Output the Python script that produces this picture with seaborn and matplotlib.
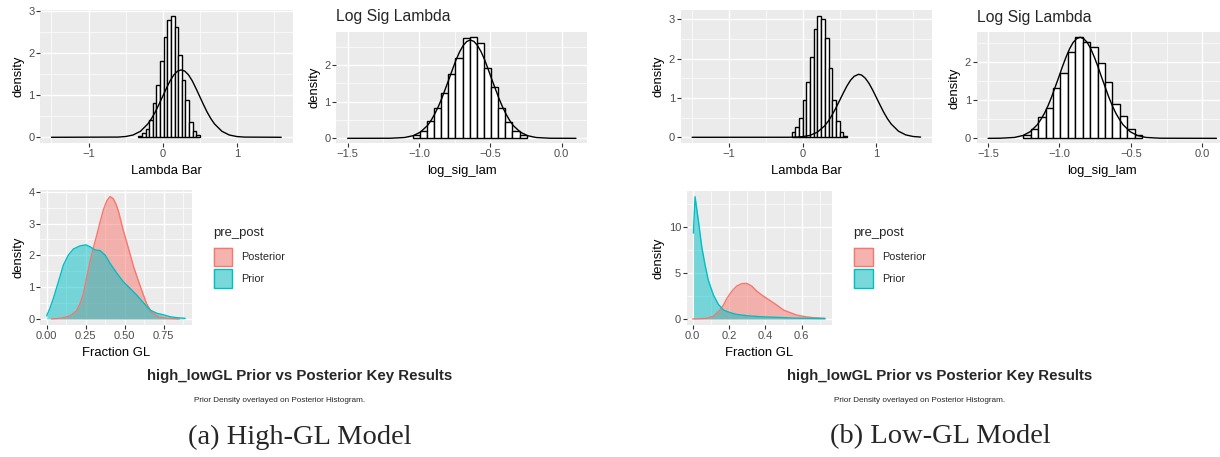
import matplotlib
matplotlib.use("Agg")
import matplotlib.pyplot as plt
from matplotlib.patches import Rectangle
import seaborn as sns

# ------------------------------------------------------------------
# High-GL model
# ------------------------------------------------------------------
# Lambda Bar: posterior histogram (density) and prior density curve
hi_lam_edges = [-0.329, -0.280, -0.231, -0.182, -0.133, -0.084, -0.035, 0.014,
                0.063, 0.112, 0.161, 0.210, 0.259, 0.308, 0.357, 0.406, 0.455, 0.504]
hi_lam_heights = [0.04, 0.10, 0.20, 0.41, 0.81, 1.24, 1.80, 2.39, 2.79, 2.89,
                  2.63, 1.95, 1.36, 0.89, 0.37, 0.15, 0.05]
hi_lam_prior_x = [-1.5, -0.6, -0.5, -0.4, -0.3, -0.2, -0.15, -0.1, -0.05, 0.0, 0.05,
                  0.1, 0.15, 0.2, 0.25, 0.3, 0.35, 0.4, 0.45, 0.5, 0.55, 0.6, 0.65,
                  0.7, 0.8, 0.9, 1.0, 1.1, 1.6]
hi_lam_prior_y = [0.0, 0.005, 0.018, 0.054, 0.142, 0.317, 0.445, 0.60, 0.78, 0.97, 1.16,
                  1.34, 1.48, 1.57, 1.60, 1.57, 1.48, 1.34, 1.16, 0.97, 0.78, 0.60, 0.445,
                  0.317, 0.142, 0.054, 0.018, 0.005, 0.0]

# Log Sig Lambda
hi_sig_edges = [-1.045, -0.995, -0.945, -0.895, -0.845, -0.795, -0.745, -0.695, -0.645,
                -0.595, -0.545, -0.495, -0.445, -0.395, -0.345, -0.295, -0.245]
hi_sig_heights = [0.10, 0.21, 0.46, 0.82, 1.24, 1.74, 2.20, 2.74, 2.76, 2.59, 1.92,
                  1.41, 0.82, 0.45, 0.20, 0.10]
hi_sig_prior_x = [-1.5, -1.2, -1.1, -1.04, -0.99, -0.94, -0.915, -0.89, -0.865, -0.84,
                  -0.815, -0.79, -0.765, -0.74, -0.715, -0.69, -0.665, -0.64, -0.615,
                  -0.59, -0.565, -0.54, -0.515, -0.49, -0.465, -0.44, -0.415, -0.39,
                  -0.365, -0.34, -0.29, -0.24, -0.18, -0.08, 0.1]
hi_sig_prior_y = [0.0, 0.002, 0.023, 0.073, 0.17, 0.35, 0.49, 0.66, 0.86, 1.09,
                  1.35, 1.61, 1.88, 2.14, 2.36, 2.53, 2.64, 2.68, 2.64,
                  2.53, 2.36, 2.14, 1.88, 1.61, 1.35, 1.09, 0.86, 0.66,
                  0.49, 0.35, 0.17, 0.073, 0.023, 0.002, 0.0]

# Fraction GL densities
hi_post_x = [0.03, 0.10, 0.15, 0.19, 0.214, 0.235, 0.256, 0.275, 0.295, 0.32, 0.342,
             0.363, 0.385, 0.406, 0.427, 0.445, 0.46, 0.49, 0.524, 0.556, 0.60, 0.64,
             0.673, 0.716, 0.77, 0.85]
hi_post_y = [0.0, 0.03, 0.10, 0.25, 0.49, 0.80, 1.30, 1.75, 2.17, 2.62, 3.05,
             3.43, 3.72, 3.85, 3.78, 3.60, 3.38, 2.80, 2.22, 1.65, 1.02, 0.48,
             0.20, 0.07, 0.02, 0.0]
hi_prior_x = [0.0, 0.02, 0.043, 0.075, 0.107, 0.139, 0.171, 0.214, 0.252, 0.278, 0.31,
              0.342, 0.374, 0.406, 0.449, 0.491, 0.534, 0.577, 0.62, 0.662, 0.705,
              0.748, 0.79, 0.833, 0.887]
hi_prior_y = [0.10, 0.33, 0.65, 1.17, 1.70, 2.01, 2.20, 2.30, 2.33, 2.27, 2.17,
              2.15, 2.01, 1.75, 1.44, 1.17, 0.96, 0.75, 0.51, 0.28, 0.18,
              0.13, 0.07, 0.04, 0.02]

# ------------------------------------------------------------------
# Low-GL model
# ------------------------------------------------------------------
lo_lam_edges = [-0.149, -0.099, -0.049, 0.001, 0.051, 0.101, 0.151, 0.201, 0.251,
                0.301, 0.351, 0.401, 0.451, 0.501, 0.551, 0.601]
lo_lam_heights = [0.13, 0.27, 0.50, 0.95, 1.41, 2.05, 2.75, 3.09, 3.00, 2.51, 1.77,
                  0.95, 0.41, 0.13, 0.04]
lo_lam_prior_x = [-1.5, -0.2, -0.1, 0.0, 0.1, 0.2, 0.3, 0.35, 0.4, 0.45, 0.5, 0.55, 0.6,
                  0.65, 0.7, 0.76, 0.8, 0.85, 0.9, 0.95, 1.0, 1.05, 1.1, 1.15, 1.2,
                  1.3, 1.4, 1.5, 1.6]
lo_lam_prior_y = [0.0, 0.001, 0.004, 0.016, 0.049, 0.13, 0.294, 0.417, 0.568, 0.742,
                  0.93, 1.12, 1.30, 1.45, 1.55, 1.60, 1.58, 1.50, 1.37, 1.20, 1.01,
                  0.82, 0.635, 0.474, 0.34, 0.155, 0.060, 0.020, 0.006]

lo_sig_edges = [-1.253, -1.201, -1.149, -1.097, -1.045, -0.993, -0.941, -0.889, -0.837,
                -0.785, -0.733, -0.681, -0.629, -0.577, -0.525, -0.473, -0.421]
lo_sig_heights = [0.09, 0.25, 0.57, 0.81, 1.33, 1.72, 2.27, 2.66, 2.54, 2.41, 1.98,
                  1.48, 0.90, 0.59, 0.24, 0.09]
lo_sig_prior_x = [-1.5, -1.415, -1.315, -1.255, -1.205, -1.155, -1.13, -1.105, -1.08,
                  -1.055, -1.03, -1.005, -0.98, -0.955, -0.93, -0.905, -0.88, -0.855,
                  -0.83, -0.805, -0.78, -0.755, -0.73, -0.705, -0.68, -0.655, -0.63,
                  -0.605, -0.58, -0.555, -0.505, -0.455, -0.395, -0.295, 0.1]
lo_sig_prior_y = [0.0, 0.003, 0.024, 0.076, 0.175, 0.36, 0.50, 0.66, 0.86, 1.09,
                  1.35, 1.61, 1.88, 2.13, 2.35, 2.52, 2.62, 2.66,
                  2.62, 2.52, 2.35, 2.13, 1.88, 1.61, 1.35, 1.09, 0.86,
                  0.66, 0.50, 0.36, 0.175, 0.076, 0.024, 0.003, 0.0]

lo_post_x = [0.0, 0.077, 0.114, 0.15, 0.169, 0.187, 0.215, 0.242, 0.27, 0.297, 0.325,
             0.352, 0.38, 0.407, 0.435, 0.462, 0.50, 0.536, 0.572, 0.618, 0.664, 0.728]
lo_post_y = [0.0, 0.07, 0.30, 0.97, 1.50, 2.20, 3.00, 3.57, 3.83, 3.86, 3.57,
             3.03, 2.60, 2.24, 1.88, 1.52, 0.97, 0.69, 0.43, 0.25, 0.14, 0.07]
lo_prior_x = [0.004, 0.013, 0.031, 0.05, 0.068, 0.086, 0.114, 0.141, 0.169, 0.206,
              0.242, 0.297, 0.37, 0.462, 0.554, 0.646, 0.728]
lo_prior_y = [9.3, 13.25, 10.7, 7.8, 5.85, 4.2, 2.6, 1.6, 0.97, 0.69,
              0.5, 0.36, 0.25, 0.18, 0.10, 0.07, 0.05]

group_labels = ["Posterior", "Prior"]
legend_title = "pre_post"
block_title = "high_lowGL Prior vs Posterior Key Results"
block_subtitle = "Prior Density overlayed on Posterior Histogram."
captions = ["(a) High-GL Model", "(b) Low-GL Model"]

# ------------------------------------------------------------------
# Styling
# ------------------------------------------------------------------
sns.set_theme(style="darkgrid")
plt.rcParams["font.family"] = ["Liberation Sans", "DejaVu Sans"]

W, H = 1220, 457
fig = plt.figure(figsize=(W / 100, H / 100), dpi=100)
fig.patch.set_facecolor("white")

PANEL = "#EBEBEB"
RED = "#F8766D"
TEAL = "#00BFC4"
TICK_TXT = "#4D4D4D"


def make_panel(box):
    l, t, r, b = box
    ax = fig.add_axes([l / W, 1 - b / H, (r - l) / W, (b - t) / H])
    ax.set_facecolor(PANEL)
    return ax


def finish_panel(ax, xlim, ylim, xmaj, xlab, xmin, ymaj, ymin, xlabel):
    for s in ax.spines.values():
        s.set_visible(False)
    ax.set_xlim(xlim)
    ax.set_ylim(ylim)
    ax.set_xticks(xmaj)
    ax.set_xticklabels(xlab)
    ax.set_xticks(xmin, minor=True)
    ax.set_yticks(ymaj)
    ax.set_yticklabels([str(v) for v in ymaj])
    ax.set_yticks(ymin, minor=True)
    ax.grid(True, which="major", color="white", linewidth=1.0)
    ax.grid(True, which="minor", color="white", linewidth=0.5)
    ax.set_axisbelow(True)
    ax.tick_params(which="major", bottom=True, left=True, length=2.6, width=0.8,
                   color="#333333", labelcolor=TICK_TXT, labelsize=8.0, pad=1.4)
    ax.tick_params(which="minor", bottom=False, left=False, length=0)
    ax.set_xlabel(xlabel, fontsize=9.4, color="black", labelpad=4.4)
    ax.set_ylabel("density", fontsize=9.4, color="black", labelpad=3.0)


def hist_with_prior(ax, edges, heights, px, py):
    centers = [(a + b) / 2 for a, b in zip(edges[:-1], edges[1:])]
    sns.histplot(x=centers, weights=heights, bins=edges, stat="count",
                 color="white", edgecolor="black", linewidth=1.0, alpha=1.0, ax=ax)
    sns.lineplot(x=px, y=py, color="black", linewidth=1.0, estimator=None,
                 sort=False, ax=ax)


def densities(ax, post_x, post_y, prior_x, prior_y):
    ax.fill_between(post_x, post_y, 0, color=RED, alpha=0.5, linewidth=0)
    sns.lineplot(x=post_x, y=post_y, color=RED, linewidth=1.0, estimator=None,
                 sort=False, ax=ax)
    ax.fill_between(prior_x, prior_y, 0, color=TEAL, alpha=0.5, linewidth=0)
    sns.lineplot(x=prior_x, y=prior_y, color=TEAL, linewidth=1.0, estimator=None,
                 sort=False, ax=ax)


def legend_block(x0, y0):
    fig.text(x0 / W, 1 - y0 / H, legend_title, fontsize=9.4, ha="left", va="center")
    for i, (lab, col) in enumerate(zip(group_labels, [RED, TEAL])):
        top = y0 + 14 + i * 21.5
        base = Rectangle((x0 / W, 1 - (top + 20) / H), 20 / W, 20 / H,
                         transform=fig.transFigure, facecolor="#F2F2F2", edgecolor="none")
        key = Rectangle(((x0 + 0.6) / W, 1 - (top + 19.4) / H), 18.8 / W, 18.8 / H,
                        transform=fig.transFigure, facecolor=col, alpha=0.5,
                        edgecolor="none")
        edge = Rectangle(((x0 + 0.6) / W, 1 - (top + 19.4) / H), 18.8 / W, 18.8 / H,
                         transform=fig.transFigure, facecolor="none", edgecolor=col,
                         linewidth=1.0)
        fig.add_artist(base)
        fig.add_artist(key)
        fig.add_artist(edge)
        fig.text((x0 + 28.5) / W, 1 - (top + 10) / H, lab, fontsize=7.8,
                 ha="left", va="center")


# ---------------- High-GL block ----------------
ax = make_panel((40, 9.7, 292.7, 143.4))
hist_with_prior(ax, hi_lam_edges, hi_lam_heights, hi_lam_prior_x, hi_lam_prior_y)
finish_panel(ax, (-1.655, 1.755), (-0.145, 3.03), [-1, 0, 1], ["\u22121", "0", "1"],
             [-1.5, -0.5, 0.5, 1.5], [0, 1, 2, 3], [0.5, 1.5, 2.5], "Lambda Bar")

ax = make_panel((336.2, 31.9, 587.4, 143.4))
hist_with_prior(ax, hi_sig_edges, hi_sig_heights, hi_sig_prior_x, hi_sig_prior_y)
finish_panel(ax, (-1.58, 0.18), (-0.138, 2.9), [-1.5, -1.0, -0.5, 0.0],
             ["\u22121.5", "\u22121.0", "\u22120.5", "0.0"], [-1.25, -0.75, -0.25],
             [0, 1, 2], [0.5, 1.5, 2.5], "log_sig_lam")
ax.set_title("Log Sig Lambda", loc="left", fontsize=11.3, pad=7.5)

ax = make_panel((40, 190.5, 191.7, 325))
densities(ax, hi_post_x, hi_post_y, hi_prior_x, hi_prior_y)
finish_panel(ax, (-0.043, 0.929), (-0.19, 4.04), [0.0, 0.25, 0.5, 0.75],
             ["0.00", "0.25", "0.50", "0.75"], [0.125, 0.375, 0.625, 0.875],
             [0, 1, 2, 3, 4], [0.5, 1.5, 2.5, 3.5], "Fraction GL")
legend_block(213, 233)

# ---------------- Low-GL block ----------------
ax = make_panel((680.7, 9.5, 932.0, 143.4))
hist_with_prior(ax, lo_lam_edges, lo_lam_heights, lo_lam_prior_x, lo_lam_prior_y)
finish_panel(ax, (-1.655, 1.755), (-0.155, 3.245), [-1, 0, 1], ["\u22121", "0", "1"],
             [-1.5, -0.5, 0.5, 1.5], [0, 1, 2, 3], [0.5, 1.5, 2.5], "Lambda Bar")

ax = make_panel((976.7, 32.3, 1227.9, 143.4))
hist_with_prior(ax, lo_sig_edges, lo_sig_heights, lo_sig_prior_x, lo_sig_prior_y)
finish_panel(ax, (-1.58, 0.18), (-0.133, 2.79), [-1.5, -1.0, -0.5, 0.0],
             ["\u22121.5", "\u22121.0", "\u22120.5", "0.0"], [-1.25, -0.75, -0.25],
             [0, 1, 2], [0.5, 1.5, 2.5], "log_sig_lam")
ax.set_title("Log Sig Lambda", loc="left", fontsize=11.3, pad=7.5)

ax = make_panel((686.7, 190.7, 831.7, 325.1))
densities(ax, lo_post_x, lo_post_y, lo_prior_x, lo_prior_y)
finish_panel(ax, (-0.033, 0.765), (-0.66, 13.9), [0.0, 0.2, 0.4, 0.6],
             ["0.0", "0.2", "0.4", "0.6"], [0.1, 0.3, 0.5, 0.7],
             [0, 5, 10], [2.5, 7.5, 12.5], "Fraction GL")
legend_block(853.3, 233)

# ---------------- Block titles and captions ----------------
for cx, cap in zip([300, 940], captions):
    fig.text(cx / W, 1 - 376 / H, block_title, fontsize=10.8, fontweight="bold",
             ha="center", va="center")
    fig.text((cx - 20) / W, 1 - 401 / H, block_subtitle, fontsize=5.9,
             ha="center", va="center")
    fig.text(cx / W, 1 - 437 / H, cap, fontsize=20.5, ha="center", va="center",
             family=["Liberation Serif", "DejaVu Serif"])

fig.savefig("out.png", dpi=100, facecolor="white")
